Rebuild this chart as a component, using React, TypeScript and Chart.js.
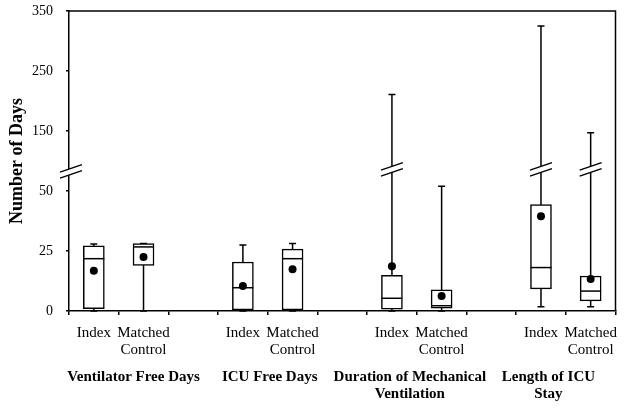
import React, { useEffect, useRef } from "react";
import { Chart, registerables } from "chart.js";

Chart.register(...registerables);

// ---- data ----
const groups: string[][] = [
  ["Ventilator Free Days"],
  ["ICU Free Days"],
  ["Duration of Mechanical", "Ventilation"],
  ["Length of ICU", "Stay"],
];
const seriesLabels: string[][] = [["Index"], ["Matched", "Control"]];
const yTickLabels = [0, 25, 50, 150, 250, 350];

// box order: for each group -> Index, Matched Control
const mins = [0, 0, 0, 0, 0, 0, 1.8, 1.8];
const q1s = [1, 19, 0.5, 0.5, 0.8, 1.2, 9.2, 4.2];
const medians = [21.8, 26.7, 9.7, 21.8, 5.3, 2.2, 18.1, 8.3];
const q3s = [27.2, 28.1, 20.4, 25.8, 14.9, 8.8, 44.3, 14.6];
const maxs = [27.9, 28.1, 27.5, 28.1, 211, 58, 325, 147];
const means = [16.8, 22.5, 10.4, 17.4, 18.6, 6.3, 39.5, 13.3];
const breakValue = 86;

// broken axis: 0-50 in steps of 25, above 50 in steps of 100
function toAxis(v: number): number {
  return v <= 50 ? v / 25 : 2 + (v - 50) / 100;
}

const FONT = "'Liberation Serif', 'Times New Roman', serif";

export default function App() {
  const ref = useRef<HTMLCanvasElement>(null);

  useEffect(() => {
    document.body.style.margin = "0";
    const canvas = ref.current;
    if (!canvas) return;

    const labels: (string | string[])[] = [];
    const boxSlots: number[] = [];
    groups.forEach((_, gi) => {
      seriesLabels.forEach((s) => {
        boxSlots.push(labels.length);
        labels.push(s.length === 1 ? s[0] : s);
      });
      if (gi < groups.length - 1) labels.push("");
    });
    const n = labels.length;
    const boxData: any[] = new Array(n).fill(null);
    const meanData: any[] = new Array(n).fill(null);
    boxSlots.forEach((slot, i) => {
      boxData[slot] = [toAxis(q1s[i]), toAxis(q3s[i])];
      meanData[slot] = toAxis(means[i]);
    });

    const drawBreak = (ctx: CanvasRenderingContext2D, cx: number, cy: number) => {
      const hw = 11;
      const rise = 3.75;
      const gap = 3;
      ctx.save();
      ctx.fillStyle = "#fff";
      ctx.beginPath();
      ctx.moveTo(cx - hw, cy + gap + rise);
      ctx.lineTo(cx + hw, cy + gap - rise);
      ctx.lineTo(cx + hw, cy - gap - rise);
      ctx.lineTo(cx - hw, cy - gap + rise);
      ctx.closePath();
      ctx.fill();
      ctx.strokeStyle = "#000";
      ctx.lineWidth = 1.5;
      ctx.beginPath();
      ctx.moveTo(cx - hw, cy + gap + rise);
      ctx.lineTo(cx + hw, cy + gap - rise);
      ctx.moveTo(cx - hw, cy - gap + rise);
      ctx.lineTo(cx + hw, cy - gap - rise);
      ctx.stroke();
      ctx.restore();
    };

    const zeroPad = (s: any) => {
      s.paddingTop = 0;
      s.paddingBottom = 0;
      s.paddingLeft = 0;
      s.paddingRight = 0;
    };

    const boxPlugin = {
      id: "boxplotExtras",
      beforeDatasetsDraw(chart: any) {
        const { ctx } = chart;
        const x = chart.scales.x;
        const y = chart.scales.y;
        ctx.save();
        ctx.strokeStyle = "#000";
        ctx.lineWidth = 1.5;
        boxSlots.forEach((slot, i) => {
          const px = x.getPixelForValue(slot);
          const top = y.getPixelForValue(toAxis(maxs[i]));
          const bot = y.getPixelForValue(toAxis(mins[i]));
          ctx.beginPath();
          ctx.moveTo(px, bot);
          ctx.lineTo(px, top);
          ctx.moveTo(px - 3.5, top);
          ctx.lineTo(px + 3.5, top);
          ctx.moveTo(px - 3.5, bot);
          ctx.lineTo(px + 3.5, bot);
          ctx.stroke();
        });
        ctx.restore();
      },
      afterDatasetDraw(chart: any, args: any) {
        if (args.index !== 0) return;
        const { ctx } = chart;
        const y = chart.scales.y;
        const meta = chart.getDatasetMeta(0);
        ctx.save();
        ctx.strokeStyle = "#000";
        ctx.lineWidth = 1.5;
        boxSlots.forEach((slot, i) => {
          const el = meta.data[slot];
          if (!el) return;
          const py = y.getPixelForValue(toAxis(medians[i]));
          ctx.beginPath();
          ctx.moveTo(el.x - el.width / 2, py);
          ctx.lineTo(el.x + el.width / 2, py);
          ctx.stroke();
        });
        ctx.restore();
      },
      afterDraw(chart: any) {
        const { ctx, chartArea } = chart;
        const x = chart.scales.x;
        const y = chart.scales.y;
        // frame top and right
        ctx.save();
        ctx.strokeStyle = "#000";
        ctx.lineWidth = 1.5;
        ctx.beginPath();
        ctx.moveTo(chartArea.left, chartArea.top);
        ctx.lineTo(chartArea.right, chartArea.top);
        ctx.lineTo(chartArea.right, chartArea.bottom);
        ctx.stroke();
        ctx.restore();
        // breaks
        const by = y.getPixelForValue(toAxis(breakValue));
        drawBreak(ctx, chartArea.left + 2, by + 2);
        boxSlots.forEach((slot, i) => {
          if (maxs[i] > breakValue) drawBreak(ctx, x.getPixelForValue(slot), by);
        });
        // group labels
        const groupCenters = [0.8, 3.54, 6.36, 9.15];
        ctx.save();
        ctx.fillStyle = "#000";
        ctx.font = `bold 15px ${FONT}`;
        ctx.textAlign = "center";
        ctx.textBaseline = "alphabetic";
        groups.forEach((lines, gi) => {
          const cx = x.getPixelForValue(groupCenters[gi]);
          lines.forEach((line, li) => {
            ctx.fillText(line, cx, chartArea.bottom + 69.5 + li * 17);
          });
        });
        ctx.restore();
      },
    };

    const chart = new Chart(canvas, {
      type: "bar",
      data: {
        labels,
        datasets: [
          {
            type: "bar",
            label: "box",
            data: boxData,
            backgroundColor: "#fff",
            borderColor: "#000",
            borderWidth: 1.5,
            borderSkipped: false,
            barThickness: 21,
            grouped: false,
            order: 2,
          } as any,
          {
            type: "line",
            label: "mean",
            data: meanData,
            showLine: false,
            pointRadius: 4,
            pointHoverRadius: 4,
            pointBackgroundColor: "#000",
            pointBorderColor: "#000",
            pointBorderWidth: 0,
            order: 1,
          } as any,
        ],
      },
      options: {
        animation: false,
        responsive: false,
        devicePixelRatio: 1,
        layout: { padding: { left: 0, top: 11, right: 8.5, bottom: 0 } },
        plugins: {
          legend: { display: false },
          tooltip: { enabled: false },
        },
        scales: {
          x: {
            type: "category",
            offset: true,
            afterFit: (s: any) => {
              s.height = 98;
              zeroPad(s);
            },
            grid: {
              offset: true,
              drawOnChartArea: false,
              drawTicks: true,
              tickLength: 4,
              color: "#000",
              lineWidth: 1.5,
            },
            border: { color: "#000", width: 1.5 },
            ticks: {
              color: "#000",
              font: { family: FONT, size: 15, lineHeight: 1.1 },
              padding: 10,
              maxRotation: 0,
              autoSkip: false,
            },
          },
          y: {
            type: "linear",
            min: 0,
            max: 5,
            afterFit: (s: any) => {
              s.width = 69;
              zeroPad(s);
            },
            grid: {
              drawOnChartArea: false,
              drawTicks: true,
              tickLength: 3,
              color: "#000",
              lineWidth: 1.5,
            },
            border: { color: "#000", width: 1.5 },
            ticks: {
              stepSize: 1,
              autoSkip: false,
              color: "#000",
              padding: 13,
              font: { family: FONT, size: 14 },
              callback: (v: any) => {
                const l = yTickLabels[Math.round(Number(v))];
                return l === undefined ? "" : String(l);
              },
            },
            title: {
              display: true,
              text: "Number of Days",
              color: "#000",
              font: { family: FONT, size: 18, weight: "bold" },
              padding: { top: 7, bottom: 0 },
            },
          },
        },
      } as any,
      plugins: [boxPlugin],
    });

    return () => chart.destroy();
  }, []);

  return (
    <div style={{ width: 624, height: 409, background: "#fff" }}>
      <canvas ref={ref} width={624} height={409} style={{ display: "block" }} />
    </div>
  );
}
